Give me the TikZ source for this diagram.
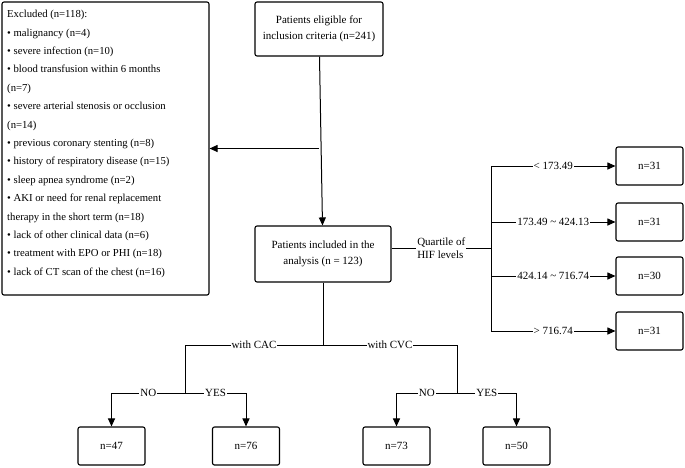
\documentclass[tikz,border=0pt]{standalone}
\usepackage{fontspec}
\setmainfont{Liberation Serif}
\usetikzlibrary{arrows.meta}
\tikzset{
  box/.style={draw, line width=1.1pt, rounded corners=2pt, align=center, font=\fontsize{11}{15.5}\selectfont},
  link/.style={line width=1pt},
  arr/.style={line width=1pt, -{Triangle[length=8pt,width=7pt]}},
  lbl/.style={fill=white, inner sep=1pt, font=\fontsize{11}{12.5}\selectfont}
}
\begin{document}
\begin{tikzpicture}[x=1pt,y=-1pt]
	\useasboundingbox (0,0) rectangle (685,467);
	
	% Boxes
	\node[box, minimum width=128pt, minimum height=54pt] (elig) at (319,29) {Patients eligible for\\inclusion criteria (n=241)};
	\node[box, minimum width=136pt, minimum height=56pt] (incl) at (323,254) {Patients included in the\\analysis (n = 123)};
	\node[draw, line width=1.1pt, rounded corners=2pt, minimum width=207pt, minimum height=293pt] (excl) at (105.5,148.5) {};
	\node[anchor=north west, align=left, inner sep=0pt, font=\fontsize{10.7}{18.4}\selectfont] (excltxt) at (7,10) {Excluded (n=118):\\
		• malignancy (n=4)\\
		• severe infection (n=10)\\
		• blood transfusion within 6 months\\
		(n=7)\\
		• severe arterial stenosis or occlusion\\
		(n=14)\\
		• previous coronary stenting (n=8)\\
		• history of respiratory disease (n=15)\\
		• sleep apnea syndrome (n=2)\\
		• AKI or need for renal replacement\\
		therapy in the short term (n=18)\\
		• lack of other clinical data (n=6)\\
		• treatment with EPO or PHI (n=18)\\
		• lack of CT scan of the chest (n=16)};
	
	% Quartile boxes
	\foreach \name/\y/\n in {qa/166/31, qb/222/31, qc/276/30, qd/331/31}
	{
		\node[box, minimum width=67pt, minimum height=38pt] (\name) at (649.5,\y) {n=\n};
	}
	% Bottom boxes
	\foreach \name/\x/\n in {ba/111.5/47, bb/246/76, bc/396.5/73, bd/516.5/50}
	{
		\node[box, minimum width=67pt, minimum height=38pt] (\name) at (\x,446) {n=\n};
	}
	
	% Main flow
	\draw[arr] (elig) -- (incl);
	\coordinate (mid) at (elig.south |- excl.east);
	\draw[arr] (mid) -- (excl.east);
	
	% Quartiles
	\coordinate (qx) at (491,248);
	\draw[link] (incl.east |- qx) -- (qx) node[midway, lbl, align=left] {Quartile of\\HIF levels};
	\draw[link] (qx |- qa) -- (qx |- qd);
	\draw[arr] (qx |- qa) -- (qa) node[midway, lbl] {< 173.49};
	\draw[arr] (qx |- qb) -- (qb) node[midway, lbl] {173.49 \textasciitilde{} 424.13};
	\draw[arr] (qx |- qc) -- (qc) node[midway, lbl] {424.14 \textasciitilde{} 716.74};
	\draw[arr] (qx |- qd) -- (qd) node[midway, lbl] {> 716.74};
	
	% Split CAC / CVC
	\coordinate (sp) at (incl.south |- 0,345);
	\coordinate (cac) at (185,345);
	\coordinate (cvc) at (457,345);
	\draw[link] (incl.south) -- (sp);
	\draw[link] (cac) -- (sp) node[midway, lbl] {with CAC};
	\draw[link] (sp) -- (cvc) node[midway, lbl] {with CVC};
	
	% CAC branch
	\coordinate (cacd) at (185,393);
	\draw[link] (cac) -- (cacd);
	\draw[link] (ba.north |- cacd) -- (cacd) node[midway, lbl] {NO};
	\draw[link] (cacd) -- (bb.north |- cacd) node[midway, lbl] {YES};
	\draw[arr] (ba.north |- cacd) -- (ba);
	\draw[arr] (bb.north |- cacd) -- (bb);
	
	% CVC branch
	\coordinate (cvcd) at (457,393);
	\draw[link] (cvc) -- (cvcd);
	\draw[link] (bc.north |- cvcd) -- (cvcd) node[midway, lbl] {NO};
	\draw[link] (cvcd) -- (bd.north |- cvcd) node[midway, lbl] {YES};
	\draw[arr] (bc.north |- cvcd) -- (bc);
	\draw[arr] (bd.north |- cvcd) -- (bd);
	
\end{tikzpicture}
\end{document}
